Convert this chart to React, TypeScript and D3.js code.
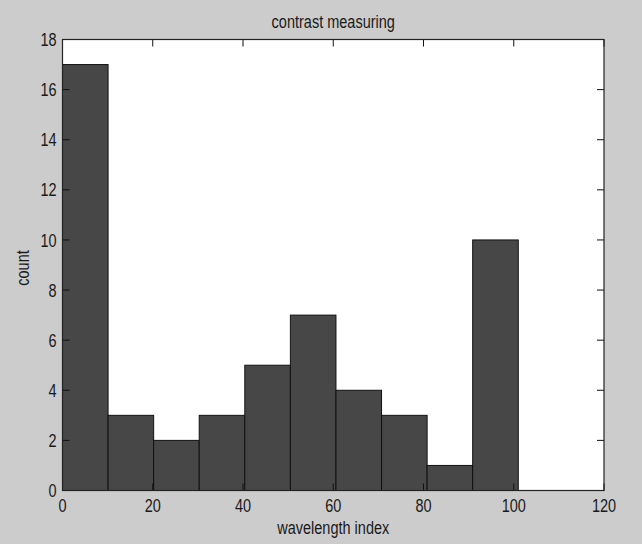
import React from 'react';
import * as d3 from 'd3';

// histogram counts per bin
const binEdges = [0, 10.1, 20.2, 30.3, 40.4, 50.5, 60.6, 70.7, 80.8, 90.9, 101];
const counts = [17, 3, 2, 3, 5, 7, 4, 3, 1, 10];
const xTicks = [0, 20, 40, 60, 80, 100, 120];
const yTicks = [0, 2, 4, 6, 8, 10, 12, 14, 16, 18];

const title = 'contrast measuring';
const xLabel = 'wavelength index';
const yLabel = 'count';

const W = 642;
const H = 544;
const margin = { top: 39.5, right: 38, bottom: 53.5, left: 62.5 };
const font = '"Liberation Sans", Arial, sans-serif';
const stretch = 1.25;

const App = () => {
  const x = d3.scaleLinear().domain([0, 120]).range([margin.left, W - margin.right]);
  const y = d3.scaleLinear().domain([0, 18]).range([H - margin.bottom, margin.top]);
  const tick = 7;

  const Txt = ({ tx, ty, anchor = 'middle', size = 14, rot = 0, children }) => (
    <text
      transform={`translate(${tx},${ty}) rotate(${rot}) scale(1,${stretch})`}
      textAnchor={anchor}
      dominantBaseline="central"
      fontFamily={font}
      fontSize={size}
      fill="#1a1a1a"
    >
      {children}
    </text>
  );

  return (
    <svg width={W} height={H} style={{ position: 'absolute', left: 0, top: 0 }}>
      <rect width={W} height={H} fill="#cccccc" />
      <rect
        x={x(0)}
        y={y(18)}
        width={x(120) - x(0)}
        height={y(0) - y(18)}
        fill="#fff"
      />
      {counts.map((c, i) => (
        <rect
          key={i}
          x={x(binEdges[i])}
          y={y(c)}
          width={x(binEdges[i + 1]) - x(binEdges[i])}
          height={y(0) - y(c)}
          fill="#474747"
          stroke="#111"
          strokeWidth={1}
        />
      ))}
      {/* inward ticks on all four sides */}
      {xTicks.map((t) => (
        <g key={'x' + t} stroke="#111" strokeWidth={1}>
          <line x1={x(t)} x2={x(t)} y1={y(0)} y2={y(0) - tick} />
          <line x1={x(t)} x2={x(t)} y1={y(18)} y2={y(18) + tick} />
        </g>
      ))}
      {yTicks.map((t) => (
        <g key={'y' + t} stroke="#111" strokeWidth={1}>
          <line x1={x(0)} x2={x(0) + tick} y1={y(t)} y2={y(t)} />
          <line x1={x(120)} x2={x(120) - tick} y1={y(t)} y2={y(t)} />
        </g>
      ))}
      <rect
        x={x(0)}
        y={y(18)}
        width={x(120) - x(0)}
        height={y(0) - y(18)}
        fill="none"
        stroke="#222"
        strokeWidth={1.2}
      />
      {xTicks.map((t) => (
        <Txt key={'xl' + t} tx={x(t)} ty={y(0) + 14.5} size={14.5}>
          {t}
        </Txt>
      ))}
      {yTicks.map((t) => (
        <Txt key={'yl' + t} tx={x(0) - 6} ty={y(t)} anchor="end" size={14.5}>
          {t}
        </Txt>
      ))}
      <Txt tx={(x(0) + x(120)) / 2} ty={21} size={14.5}>
        {title}
      </Txt>
      <Txt tx={(x(0) + x(120)) / 2} ty={527} size={14.5}>
        {xLabel}
      </Txt>
      <Txt tx={22} ty={268} size={14.5} rot={-90}>
        {yLabel}
      </Txt>
    </svg>
  );
};

export default App;
